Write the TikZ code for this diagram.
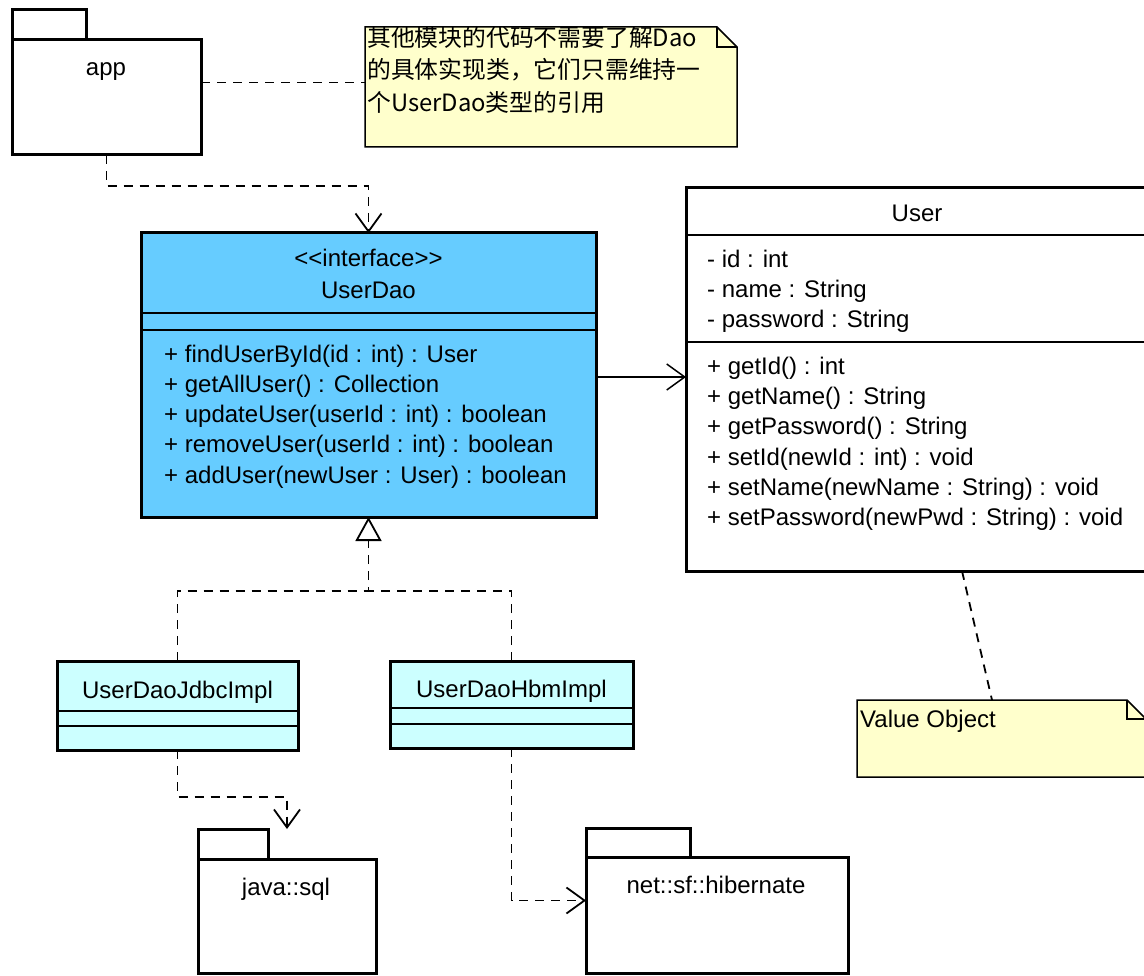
\documentclass[tikz,border=0pt]{standalone}
\usepackage{fontspec}
\setmainfont{Liberation Sans}
\newfontfamily\cjkfont{Noto Sans CJK SC}
\usetikzlibrary{arrows.meta}
\definecolor{ifacefill}{RGB}{102,204,255}
\definecolor{implfill}{RGB}{204,255,255}
\definecolor{notefill}{RGB}{255,255,204}

\begin{document}
\begin{tikzpicture}[x=1pt,y=-1pt,
  txt/.style={font=\fontsize{24}{30}\selectfont, inner sep=0pt},
  member/.style={txt, anchor=base west},
  ctitle/.style={txt, anchor=base},
  boxframe/.style={draw=black, line width=3pt, anchor=north west, inner sep=0pt, outer sep=0pt},
  divider/.style={line width=1.3pt},
  frame/.style={anchor=north west, inner sep=0pt, outer sep=0pt},
  pkgline/.style={draw=black, fill=white, line width=3pt},
  noteline/.style={draw=black, fill=notefill, line width=1.5pt},
  notetxt/.style={font=\cjkfont\fontsize{23.8}{32.5}\selectfont, inner sep=0pt, anchor=base west},
  dashedline/.style={line width=1.8pt, dash pattern=on 9pt off 7pt},
  vhead/.style={-{Straight Barb[length=18pt,width=26pt]}},
  realtip/.style={-{Triangle[open,length=24pt,width=26pt]}}
]
\useasboundingbox (0,0) rectangle (1144,976);
\clip (0,0) rectangle (1144,976);
\fill[white] (0,0) rectangle (1144,976);

% ---------- packages ----------
\node[frame, minimum width=189, minimum height=145] (app) at (12,10) {};
\draw[pkgline] (app.north west) rectangle ([xshift=74pt,yshift=-30pt]app.north west);
\draw[pkgline] ([yshift=-30pt]app.north west) rectangle (app.south east);
\node[ctitle] (applabel) at (106,76) {app};

\node[frame, minimum width=178, minimum height=144] (javasql) at (198,829) {};
\draw[pkgline] (javasql.north west) rectangle ([xshift=70pt,yshift=-30pt]javasql.north west);
\draw[pkgline] ([yshift=-30pt]javasql.north west) rectangle (javasql.south east);
\node[ctitle] (javasqllabel) at (286,895) {java::sql};

\node[frame, minimum width=262, minimum height=145] (hibernate) at (586,828) {};
\draw[pkgline] (hibernate.north west) rectangle ([xshift=104pt,yshift=-29pt]hibernate.north west);
\draw[pkgline] ([yshift=-29pt]hibernate.north west) rectangle (hibernate.south east);
\node[ctitle] (hibernatelabel) at (716,893) {net::sf::hibernate};

% ---------- notes ----------
\node[frame, minimum width=372, minimum height=120] (note1) at (365,27) {};
\draw[noteline] (note1.north west) -- ([xshift=-20pt]note1.north east) -- ([yshift=-20pt]note1.north east)
  -- (note1.south east) -- (note1.south west) -- cycle;
\draw[line width=1.5pt] ([xshift=-20pt]note1.north east) |- ([yshift=-20pt]note1.north east);
\node[notetxt] (note1a) at (367,46.5) {其他模块的代码不需要了解Dao};
\node[notetxt] (note1b) at (367,79) {的具体实现类，它们只需维持一};
\node[notetxt] (note1c) at (367,111.5) {个UserDao类型的引用};

\node[frame, minimum width=289, minimum height=77] (vonote) at (857,700) {};
\draw[noteline] (vonote.north west) -- ([xshift=-19pt]vonote.north east) -- ([yshift=-19pt]vonote.north east)
  -- (vonote.south east) -- (vonote.south west) -- cycle;
\draw[line width=1.5pt] ([xshift=-19pt]vonote.north east) |- ([yshift=-19pt]vonote.north east);
\node[txt, anchor=base west] (volabel) at (860,727) {Value Object};

% ---------- interface UserDao ----------
\node[boxframe, fill=ifacefill, minimum width=455, minimum height=284] (userdao) at (141,233) {};
\draw[divider] (141,313) -- (596,313);
\draw[divider] (141,330) -- (596,330);
\node[ctitle] (udstereo) at (368.5,267) {<{}<interface>{}>};
\node[ctitle] (udname) at (368.5,299) {UserDao};
\foreach \t [count=\i] in {%
  + findUserById(id : int) : User,
  + getAllUser() : Collection,
  + updateUser(userId : int) : boolean,
  + removeUser(userId : int) : boolean,
  + addUser(newUser : User) : boolean}
  \node[member] (udop\i) at (164,{363+30*(\i-1)}) {\t};

% ---------- class User ----------
\node[boxframe, fill=white, minimum width=462, minimum height=383] (user) at (686,188) {};
\draw[divider] (686,235) -- (1148,235);
\draw[divider] (686,342) -- (1148,342);
\node[ctitle] (username) at (917,222) {User};
\foreach \t [count=\i] in {%
  - id : int,
  - name : String,
  - password : String}
  \node[member] (uattr\i) at (707,{268+30*(\i-1)}) {\t};
\foreach \t [count=\i] in {%
  + getId() : int,
  + getName() : String,
  + getPassword() : String,
  + setId(newId : int) : void,
  + setName(newName : String) : void,
  + setPassword(newPwd : String) : void}
  \node[member] (uop\i) at (707,{375+30*(\i-1)}) {\t};

% ---------- implementations ----------
\node[boxframe, fill=implfill, minimum width=241, minimum height=89] (jdbc) at (57,661) {};
\draw[divider] (57,711) -- (298,711);
\draw[divider] (57,726) -- (298,726);
\node[ctitle] (jdbcname) at (177.5,698) {UserDaoJdbcImpl};

\node[boxframe, fill=implfill, minimum width=243, minimum height=87] (hbm) at (390,661) {};
\draw[divider] (390,708) -- (633,708);
\draw[divider] (390,724) -- (633,724);
\node[ctitle] (hbmname) at (511.5,697) {UserDaoHbmImpl};

% ---------- connectors ----------
\draw[dashedline] (app.east) -- (app.east -| note1.west);
\draw[dashedline, vhead] (app.south) -- ++(0,31) -| (userdao.north);
\draw[line width=1.5pt, vhead] ([yshift=-2pt]userdao.east) -- ([yshift=-2pt]userdao.east -| user.west);

\coordinate (fork) at (368.5,591);
\draw[dashedline, realtip] (jdbc.north) |- (fork) -- (userdao.south);
\draw[dashedline] (hbm.north) |- (fork);

\draw[dashedline, vhead] (jdbc.south) -- ++(0,47) -| (javasql.north);
\draw[dashedline, vhead] (hbm.south) |- (hibernate.west);

\draw[dashedline] ([xshift=276pt]user.south west) -- ([xshift=135pt]vonote.north west);
\end{tikzpicture}
\end{document}
